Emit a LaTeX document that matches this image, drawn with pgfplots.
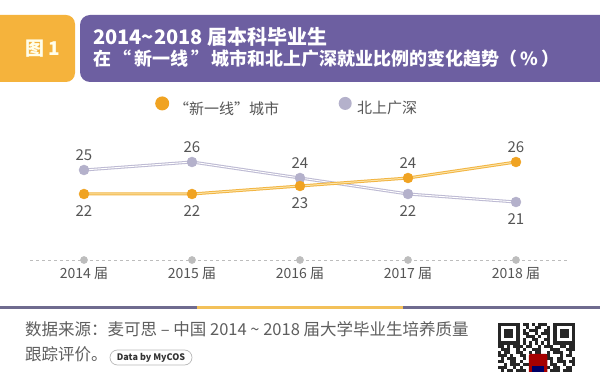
\documentclass[border=0pt]{standalone}
\usepackage{fontspec}
\setmainfont{Noto Sans CJK SC}
\usepackage{pgfplots}
\pgfplotsset{compat=1.18}
\definecolor{hdryellow}{HTML}{F5B33C}
\definecolor{hdrpurple}{HTML}{6D5FA1}
\definecolor{dotorange}{HTML}{F0A322}
\definecolor{lineorange}{HTML}{F2B441}
\definecolor{lightorange}{HTML}{FBE4A8}
\definecolor{dotlav}{HTML}{B4B1CB}
\definecolor{linelav}{HTML}{BDBAD3}
\definecolor{axisdot}{HTML}{BDBDBD}
\definecolor{txtgray}{HTML}{555555}
\definecolor{footgray}{HTML}{5E5E5E}
\definecolor{seppurple}{HTML}{6F6B8F}
\definecolor{sepyellow}{HTML}{F3C15A}

\pgfplotsset{
  lblabove/.style={draw=none, mark=none, nodes near coords, point meta=y,
    every node near coord/.append style={anchor=south, yshift=9.5pt, inner sep=0pt,
      text=txtgray, font=\fontsize{15}{15}\selectfont}},
  lblbelow/.style={draw=none, mark=none, nodes near coords, point meta=y,
    every node near coord/.append style={anchor=north, yshift=-11.5pt, inner sep=0pt,
      text=txtgray, font=\fontsize{15}{15}\selectfont}},
}

\begin{document}
\begin{tikzpicture}
\useasboundingbox (0pt,0pt) rectangle (600pt,372pt);
\fill[white] (0pt,0pt) rectangle (600pt,372pt);
% header
\fill[hdryellow, rounded corners=9pt] (-20pt,357pt) rectangle (75pt,290pt);
\fill[hdrpurple, rounded corners=10pt] (80pt,357pt) rectangle (620pt,290pt);
\node[text=white!92!yellow, font=\fontsize{19}{19}\selectfont\bfseries] at (43pt,323.5pt) {图 1};
\node[anchor=base west, inner sep=0pt, text=white, font=\fontsize{20}{20}\selectfont\bfseries] at (93pt,327pt) {2014{\char"7E}2018 届本科毕业生};
\node[anchor=base west, inner sep=0pt, text=white, font=\fontsize{18}{18}\selectfont\bfseries] at (93pt,306.5pt) {在\hspace{0.15em}“\hspace{0.15em}新一线\hspace{0.15em}”\hspace{0.15em}城市和北上广深就业比例的变化趋势（\,\%\,）};

\begin{axis}[
  at={(30pt,112pt)}, anchor=south west,
  width=540pt, height=114pt, scale only axis,
  xmin=-0.5, xmax=4.5, ymin=13.75, ymax=28,
  clip=false,
  axis x line=bottom, axis y line=none,
  x axis line style={-, draw=axisdot, line width=0.8pt, dash pattern=on 3pt off 3pt},
  xtick={0,1,2,3,4},
  xticklabels={2014 届,2015 届,2016 届,2017 届,2018 届},
  ytick=\empty,
  major tick length=0pt,
  xticklabel style={text=txtgray, font=\fontsize{14}{14}\selectfont, yshift=-4pt},
  legend columns=2,
  legend cell align=left,
  legend style={at={(0.2315,1.351)}, anchor=west, draw=none, fill=none,
    inner sep=0pt, column sep=0pt, nodes={inner sep=0pt},
    font=\fontsize{15}{15}\selectfont, text=txtgray},
  /pgf/number format/assume math mode=true,
]
\addlegendimage{legend image code/.code={
  \fill[draw=none, fill=dotorange] (7pt,5pt) circle [radius=7pt];
  \path[draw=none, fill=none] (0pt,0pt) -- (19pt,0pt);}}
\addlegendentry{“新一线”城市}
\addlegendimage{legend image code/.code={
  \fill[draw=none, fill=dotlav] (66pt,5pt) circle [radius=6.5pt];
  \path[draw=none, fill=none] (0pt,0pt) -- (78pt,0pt);}}
\addlegendentry{北上广深}

% axis dots
\addplot[forget plot, only marks, color=axisdot, mark=*, mark size=3.6pt]
  coordinates {(0,13.75) (1,13.75) (2,13.75) (3,13.75) (4,13.75)};

% lavender series: 25 26 24 22 21
\addplot[forget plot, draw=linelav, line width=3pt, no marks] coordinates {(0,25) (1,26) (2,24) (3,22) (4,21)};
\addplot[forget plot, draw=white, line width=0.9pt, no marks] coordinates {(0,25) (1,26) (2,24) (3,22) (4,21)};
\addplot[forget plot, only marks, color=dotlav, mark=*, mark size=5pt]
  coordinates {(0,25) (1,26) (2,24) (3,22) (4,21)};
\addplot[forget plot, lblabove] coordinates {(0,25) (1,26) (2,24)};
\addplot[forget plot, lblbelow] coordinates {(3,22) (4,21)};

% orange series: 22 22 23 24 26
\addplot[forget plot, draw=lineorange, line width=3pt, no marks] coordinates {(0,22) (1,22) (2,23) (3,24) (4,26)};
\addplot[forget plot, draw=lightorange, line width=1pt, no marks] coordinates {(0,22) (1,22) (2,23) (3,24) (4,26)};
\addplot[forget plot, only marks, color=dotorange, mark=*, mark size=5pt]
  coordinates {(0,22) (1,22) (2,23) (3,24) (4,26)};
\addplot[forget plot, lblbelow] coordinates {(0,22) (1,22) (2,23)};
\addplot[forget plot, lblabove] coordinates {(3,24) (4,26)};
\end{axis}

% separator
\fill[seppurple] (0pt,62.5pt) rectangle (197pt,65.5pt);
\fill[sepyellow] (197pt,62.5pt) rectangle (403pt,65.5pt);
\fill[seppurple] (403pt,62.5pt) rectangle (600pt,65.5pt);

% footer
\node[anchor=base west, inner sep=0pt, text=footgray, font=\fontsize{16.5}{16.5}\selectfont] at (25pt,36.5pt) {数据来源：麦可思 – 中国 2014 {\char"7E} 2018 届大学毕业生培养质量};
\node[anchor=base west, inner sep=0pt, text=footgray, font=\fontsize{16.5}{16.5}\selectfont] at (25pt,11.5pt) {跟踪评价。};
\draw[gray!55, line width=0.7pt, rounded corners=7.5pt] (110pt,7pt) rectangle (192pt,22pt);
\node[inner sep=0pt, text=black!80, font=\fontsize{9}{9}\selectfont\bfseries] at (151pt,14.5pt) {Data by MyCOS};

% QR code (decorative)
\begin{scope}[shift={(498pt,49pt)}]
  \def\m{3.08}
  \foreach \ox in {0,18}{
    \fill[black!85] (\ox*\m pt,0pt) rectangle ++(7*\m pt,-7*\m pt);
    \fill[white] (\ox*\m pt+\m pt,-\m pt) rectangle ++(5*\m pt,-5*\m pt);
    \fill[black!85] (\ox*\m pt+2*\m pt,-2*\m pt) rectangle ++(3*\m pt,-3*\m pt);
  }
  \foreach \r/\c/\l in {0/8/2,0/11/1,0/13/3,1/9/1,1/12/2,1/16/1,2/8/1,2/10/3,2/15/2,
    3/8/2,3/12/1,3/14/3,4/9/3,4/13/1,4/16/1,5/8/1,5/11/2,5/15/2,
    6/8/1,6/10/1,6/12/1,6/14/1,6/16/1,
    7/0/2,7/3/1,7/5/3,7/9/2,7/13/1,7/15/3,7/20/2,7/23/2,
    8/1/3,8/6/1,8/8/1,8/11/3,8/17/2,8/19/1,8/22/3,
    9/0/1,9/2/2,9/6/2,9/10/1,9/12/2,9/16/1,9/18/3,9/23/1,
    10/0/3,10/4/1,10/7/2,10/11/1,10/14/3,10/20/1,10/22/2,
    11/1/1,11/3/3,11/8/1,11/16/2,11/19/2,11/24/1,
    12/0/2,12/4/2,12/7/1,12/17/1,12/19/3,12/23/2,
    13/2/1,13/4/3,13/8/2,13/17/2,13/21/1,13/24/1,
    14/0/3,14/5/1,14/7/1,14/16/1,14/18/2,14/22/2,
    15/1/1,15/3/2,15/6/3,15/17/3,15/21/3}{
    \fill[black!85] (\c*\m pt,-\r*\m pt) rectangle ++(\l*\m pt,-\m pt);
  }
  \fill[red!65!black, rounded corners=2pt] (10*\m pt,-10*\m pt) rectangle ++(6*\m pt,-6.5*\m pt);
  \fill[blue!40!black] (11*\m pt,-14*\m pt) rectangle ++(4*\m pt,-2.5*\m pt);
\end{scope}
\end{tikzpicture}
\end{document}
